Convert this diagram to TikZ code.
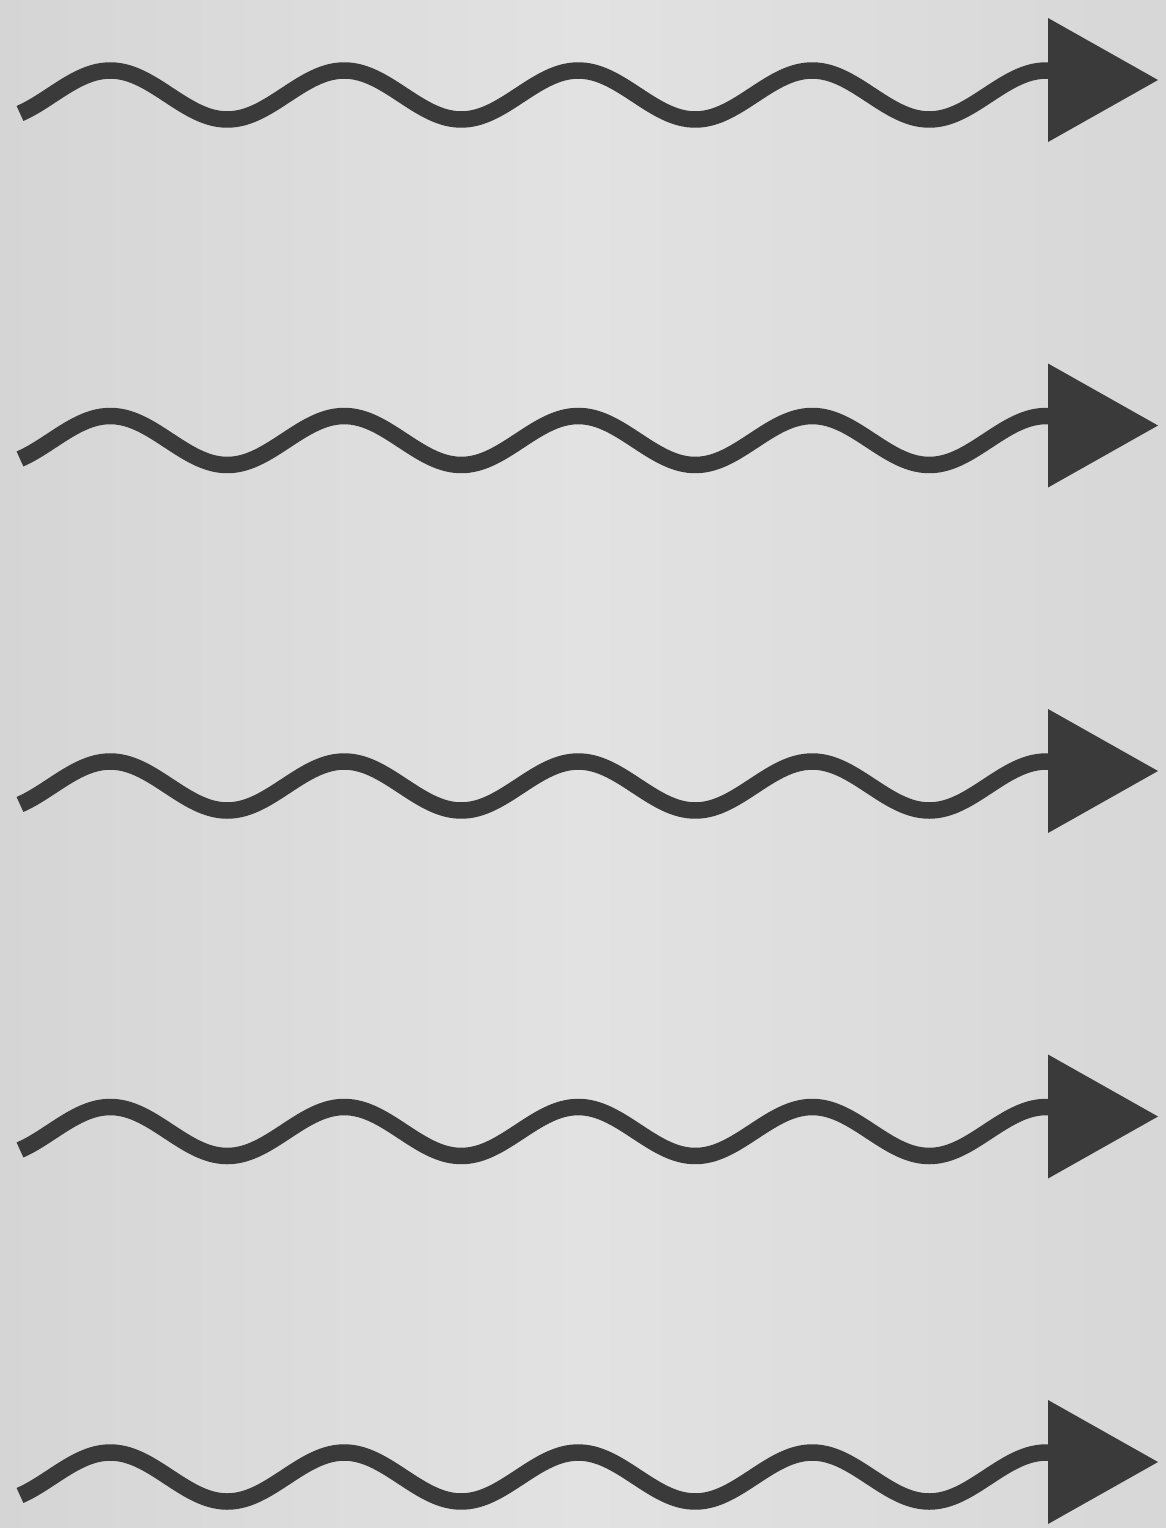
\documentclass[tikz,border=0pt]{standalone}
\usetikzlibrary{calc}
\definecolor{ink}{HTML}{3A3A3A}
\definecolor{paperL}{HTML}{D5D5D5}
\definecolor{paperM}{HTML}{E2E2E2}
\definecolor{paperR}{HTML}{D7D7D7}
\tikzset{
  wave/.style={draw=ink, line width=0.33cm, line cap=butt, line join=round},
  head/.style={fill=ink, draw=none}
}
\begin{document}
\begin{tikzpicture}[x=0.02cm,y=-0.02cm]
\useasboundingbox (0,0) rectangle (1166,1528);
\shade[left color=paperL, right color=paperR, middle color=paperM] (0,0) rectangle (1166,1528);
\foreach \k in {0,...,4}{
  \pgfmathsetmacro{\ty}{80+\k*345.5}
  \pgfmathsetmacro{\yc}{\ty+15}
  \coordinate (base\k) at (1048,\ty);
  \coordinate (tip\k) at (1158,\ty);
  \draw[wave] plot[domain=20:1050, samples=240, smooth]
    (\x, {\yc - 24.5*sin((\x-51.75)*1.538462)});
  \fill[head] ($(base\k)+(0,-62)$) -- (tip\k) -- ($(base\k)+(0,62)$) -- cycle;
}
\end{tikzpicture}
\end{document}
